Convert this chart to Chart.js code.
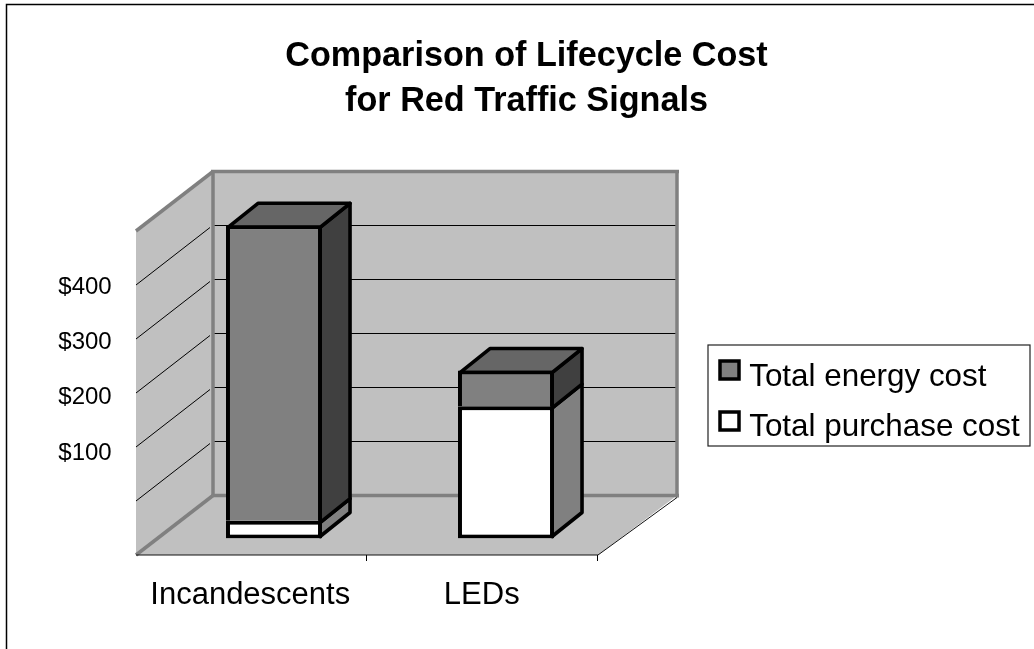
<!DOCTYPE html>
<html>
<head>
<meta charset="utf-8">
<style>html,body{margin:0;padding:0;background:#fff}canvas{display:block}</style>
<script src="https://cdn.jsdelivr.net/npm/chart.js@4"></script>
</head>
<body>
<canvas id="c" width="1034" height="649"></canvas>
<script>
const categories = ['Incandescents', 'LEDs'];
const purchaseCost = [33, 245];
const energyCost = [547, 66];
const printedTicks = [0, 100, 200, 300, 400];
const seriesNames = ['Total purchase cost', 'Total energy cost'];
const titleLines = ['Comparison of Lifecycle Cost', 'for Red Traffic Signals'];

const FRONT = '#808080', WHITE = '#ffffff', SIDE = '#404040', TOP = '#666666', WALL = '#c0c0c0', EDGE = '#808080';

Chart.defaults.font.family = '"Liberation Sans", Arial, sans-serif';
Chart.defaults.color = '#000';

const scene = {
  id: 'scene',
  afterLayout(chart) {
    const { xLabel, yLabel } = chart.scales;
    xLabel.left = 134.5; xLabel.right = 597.5; xLabel.width = 463;
    xLabel.top = 555; xLabel.bottom = 649; xLabel.height = 94; xLabel.configure();
    yLabel.top = 287; yLabel.bottom = 508.3; yLabel.height = 221.3;
    yLabel.left = 0; yLabel.right = 111.7; yLabel.width = 111.7; yLabel.configure();
    const t = chart.titleBlock;
    t.left = 0; t.right = 1053;
    const l = chart.legend;
    l.left = 692.5; l.right = 1034; l.top = 342.5; l.bottom = 480;
    l.width = l.right - l.left; l.height = l.bottom - l.top;
    l.adjustHitBoxes();
  },
  beforeDraw(chart) {
    const c = chart.ctx;
    c.save();
    c.fillStyle = '#fff';
    c.fillRect(0, 0, chart.width, chart.height);
    c.strokeStyle = '#000'; c.lineWidth = 1.5;
    c.beginPath(); c.moveTo(6.5, chart.height); c.lineTo(6.5, 4.5); c.lineTo(chart.width, 4.5); c.stroke();
    c.lineWidth = 1.2; c.strokeStyle = '#222';
    c.fillStyle = '#fff';
    c.fillRect(708, 345, 322, 101);
    c.strokeRect(708, 345, 322, 101);
    const sw = [[FRONT, 361], [WHITE, 412]];
    sw.forEach(([col, y]) => {
      c.fillStyle = col; c.fillRect(720, y, 19, 18);
      c.strokeStyle = '#000'; c.lineWidth = 3.5; c.strokeRect(720, y, 19, 18);
    });
    c.restore();
  },
  beforeDatasetsDraw(chart) {
    const c = chart.ctx, a = chart.chartArea, y = chart.scales.y;
    const bl = a.left + 55, br = a.right + 55, fl = a.left - 22, fr = a.right - 24;
    const bt = a.top - 43, bb = a.bottom - 43, ft = a.top + 16.5, fb = a.bottom + 16.5;
    const poly = (pts, fill) => {
      c.beginPath(); pts.forEach((p, i) => i ? c.lineTo(p[0], p[1]) : c.moveTo(p[0], p[1]));
      c.closePath(); c.fillStyle = fill; c.fill();
    };
    const line = (x1, y1, x2, y2, col, w) => {
      c.beginPath(); c.moveTo(x1, y1); c.lineTo(x2, y2); c.strokeStyle = col; c.lineWidth = w; c.stroke();
    };
    c.save();
    poly([[bl, bt], [br, bt], [br, bb], [bl, bb]], WALL);
    poly([[fl, ft], [bl, bt], [bl, bb], [fl, fb]], WALL);
    poly([[fl, fb], [bl, bb], [br, bb], [fr, fb]], WALL);
    y.ticks.forEach(t => {
      if (t.value === 0 || t.value === y.max) return;
      const py = y.getPixelForValue(t.value);
      line(bl, py - 43, br, py - 43, '#000', 1);
      line(fl, py + 16.5, bl - 3, py - 43 + 2, '#000', 1);
    });
    c.lineCap = 'butt';
    line(fl, ft, bl, bt, EDGE, 3.5);
    line(bl - 2, bt, br + 2, bt, EDGE, 3.5);
    line(br, bt, br, bb + 2, EDGE, 3.5);
    line(bl, bt, bl, bb, EDGE, 3.5);
    line(bl, bb, br + 2, bb, EDGE, 3.5);
    line(fl, fb, bl, bb, EDGE, 3.5);
    line(fl, fb, fr, fb, '#111', 1);
    line(fr, fb, br, bb + 2, '#111', 1);

    // Bar depth faces, built from the bars the library placed
    const dx = 30, dy = -24, inset = 2;
    c.lineJoin = 'round';
    const faces = [[0, FRONT], [1, SIDE]];
    faces.forEach(([ds, sideCol]) => {
      chart.getDatasetMeta(ds).data.forEach(b => {
        const xr = b.x + b.width / 2 - inset, xl = b.x - b.width / 2 + inset;
        const top = b.y + inset, base = ds === 0 ? b.base - inset : b.base + inset;
        c.beginPath();
        c.moveTo(xr, top); c.lineTo(xr + dx, top + dy); c.lineTo(xr + dx, base + dy); c.lineTo(xr, base);
        c.closePath();
        c.fillStyle = sideCol; c.fill();
        c.strokeStyle = '#000'; c.lineWidth = 3.6; c.stroke();
        if (ds === 1) {
          c.beginPath();
          c.moveTo(xl, top); c.lineTo(xl + dx, top + dy); c.lineTo(xr + dx, top + dy); c.lineTo(xr, top);
          c.closePath();
          c.fillStyle = TOP; c.fill();
          c.stroke();
        }
      });
    });
    c.restore();
  }
};

const bw = { top: 4, right: 4, bottom: 4, left: 4 };
new Chart(document.getElementById('c'), {
  type: 'bar',
  data: {
    labels: categories,
    datasets: [
      { label: seriesNames[0], data: purchaseCost, backgroundColor: WHITE, borderColor: '#000', borderWidth: bw, borderSkipped: false, inflateAmount: 0 },
      { label: seriesNames[1], data: energyCost, backgroundColor: FRONT, borderColor: '#000', borderWidth: { ...bw, bottom: 0 }, borderSkipped: false, inflateAmount: 0 }
    ]
  },
  options: {
    responsive: false,
    animation: false,
    layout: { autoPadding: false, padding: { left: 158, right: 412, top: 0, bottom: 110.5 } },
    datasets: { bar: { categoryPercentage: 1, barPercentage: 0.414 } },
    scales: {
      x: { display: false, stacked: true },
      y: { display: false, stacked: true, min: 0, max: 600, ticks: { stepSize: 100 } },
      xLabel: {
        type: 'category', labels: categories, position: 'bottom', offset: true,
        border: { display: false },
        grid: { offset: true, drawOnChartArea: false, tickLength: 6, tickWidth: 1, tickColor: ctx => ctx.index === 0 ? 'rgba(0,0,0,0)' : '#000' },
        ticks: { autoSkip: false, maxRotation: 0, minRotation: 0, padding: 15.5, font: { size: 31 }, color: '#000' },
        afterFit(s) { s.height = 0; }
      },
      yLabel: {
        type: 'linear', position: 'left', min: printedTicks[0], max: printedTicks[printedTicks.length - 1],
        border: { display: false },
        grid: { display: false, drawTicks: false, tickLength: 0 },
        afterBuildTicks(s) { s.ticks = printedTicks.map(v => ({ value: v })); },
        ticks: { padding: 0, font: { size: 24 }, color: '#000', callback: v => v ? '$' + v : '' },
        afterFit(s) { s.width = 0; }
      }
    },
    plugins: {
      title: {
        display: true, text: titleLines, color: '#000',
        font: { size: 34.2, weight: 'bold', lineHeight: 45 / 34.2 },
        padding: { top: 34.5, bottom: 90 }
      },
      legend: {
        display: true, position: 'chartArea', align: 'start',
        labels: {
          font: { size: 31.4 }, color: '#000', boxWidth: 22, boxHeight: 20, padding: 19,
          sort: (a, b) => b.datasetIndex - a.datasetIndex,
          generateLabels(chart) {
            return chart.data.datasets.map((d, i) => ({ text: d.label, fillStyle: 'rgba(0,0,0,0)', strokeStyle: 'rgba(0,0,0,0)', lineWidth: 0, datasetIndex: i, hidden: false }));
          }
        }
      },
      tooltip: { enabled: false }
    }
  },
  plugins: [scene]
});
</script>
</body>
</html>
